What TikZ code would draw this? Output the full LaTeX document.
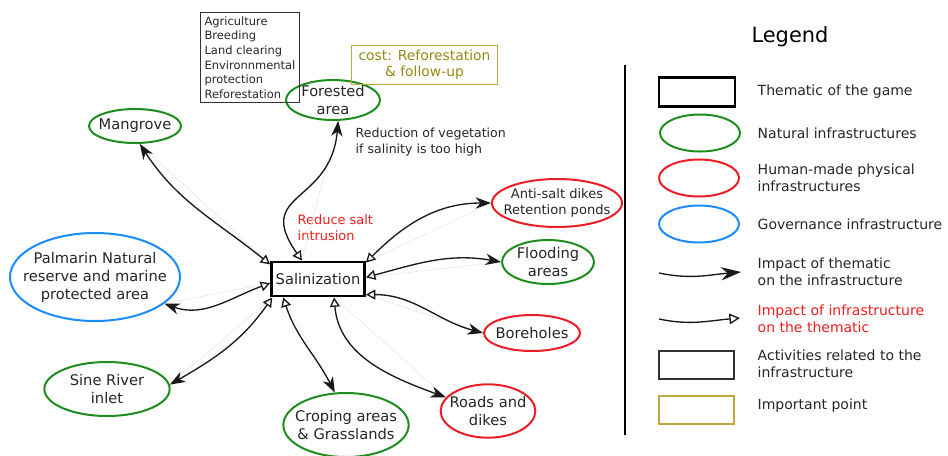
\documentclass[tikz,border=0pt]{standalone}
\usepackage{fontspec}
\setmainfont{DejaVu Sans}
\usepackage{tikz}
\usetikzlibrary{shapes.geometric,arrows.meta,positioning}
\definecolor{natgreen}{HTML}{1E8C1E}
\definecolor{humred}{HTML}{EE1D23}
\definecolor{govblue}{HTML}{1A8CFF}
\definecolor{oliveline}{HTML}{BFA93A}
\definecolor{olivetext}{HTML}{968A14}
\definecolor{textgray}{HTML}{262626}
\definecolor{notered}{HTML}{F01E1E}

\begin{document}
\begin{tikzpicture}[
  x=0.75pt, y=-0.75pt,
  lbl/.style={font=\fontsize{11}{13.5}\selectfont, align=center, text=textgray},
  theme/.style={draw, line width=2.2pt, minimum width=69.75pt, minimum height=25.5pt, inner sep=2pt},
  oval/.style={ellipse, line width=1.5pt, inner xsep=-4pt, inner ysep=-4pt, lbl},
  nat/.style={oval, draw=natgreen},
  hum/.style={oval, draw=humred},
  gov/.style={oval, draw=govblue},
  acts/.style={draw=black!80, line width=0.9pt, align=left, inner sep=3pt, font=\fontsize{8.6}{11}\selectfont, text=textgray},
  keypt/.style={draw=oliveline, line width=0.9pt},
  impact/.style={-{Stealth[length=15pt,width=10pt,inset=5pt]}, line width=1pt, black!90},
  feedback/.style={-{Triangle[open,length=8pt,width=8pt]}, line width=1pt, black!90},
  both/.style={{Triangle[open,length=7pt,width=7.5pt]}-{Stealth[length=11.5pt,width=8.5pt,inset=3.5pt]}, line width=1pt, black!90},
  faint/.style={draw=black!10, line width=0.4pt},
  legtxt/.style={anchor=west, align=left, font=\fontsize{10.5}{12.75}\selectfont, text=textgray},
]
\useasboundingbox (0,0) rectangle (948,455);

% thematic and infrastructures
\node[theme, lbl] (sal) at (318,279) {Salinization};
\node[nat, minimum width=70.5pt, minimum height=30pt] (forest) at (333,100) {Forested\\area};
\node[nat, minimum width=69pt, minimum height=25.5pt] (mangrove) at (135,126) {Mangrove};
\node[gov, inner xsep=-10pt, minimum width=127.5pt, minimum height=66pt] (palmarin) at (95,277) {Palmarin Natural\\reserve and marine\\protected area};
\node[nat, minimum width=94pt, minimum height=40.5pt] (sine) at (107,389) {Sine River\\inlet};
\node[nat, inner xsep=-6pt, minimum width=94pt, minimum height=48pt] (crop) at (346,425) {Croping areas\\\& Grasslands};
\node[hum, minimum width=71pt, minimum height=40pt] (roads) at (488,411) {Roads and\\dikes};
\node[hum, minimum width=72pt, minimum height=27pt] (bore) at (532,333) {Boreholes};
\node[nat, minimum width=69pt, minimum height=33pt] (flood) at (548,262) {Flooding\\areas};
\node[hum, inner xsep=-6pt, minimum width=97.5pt, minimum height=36pt,
  font=\fontsize{9.8}{12}\selectfont] (antisalt) at (557,203) {Anti-salt dikes\\Retention ponds};

% activities, important point and notes
\node[acts, anchor=north west] (forestacts) at (200,12) {Agriculture\\Breeding\\Land clearing\\Environnmental\\protection\\Reforestation};
\node[keypt, text=olivetext, align=center, minimum width=110pt, minimum height=25.5pt,
  font=\fontsize{10.4}{12}\selectfont] (forestcost) at (424.5,65) {cost: Reforestation\\\& follow-up};
\node[anchor=west, align=left, text=textgray, font=\fontsize{9.4}{12}\selectfont] (vegnote) at (351,142)
  {Reduction of vegetation\\if salinity is too high};
\node[anchor=west, align=left, text=notered, font=\fontsize{9.7}{12}\selectfont] (saltnote) at (293,228)
  {Reduce salt\\intrusion};

% faint straight returns
\draw[faint] (sal.131) -- (forest.284);
\draw[faint] (sal.163) -- (mangrove.285);
\draw[faint] (sal.185) -- (palmarin.339);
\draw[faint] (sal.202) -- (sine.4);
\draw[faint] (sal.208) -- (crop.109);
\draw[faint] (sal.311) -- (roads.162);
\draw[faint] (sal.342) -- (bore.180);
\draw[faint] (sal.2) -- (flood.180);
\draw[faint] (sal.19) -- (antisalt.180);

% impacts both ways
\draw[both] (sal.131) to[out=125,in=-95,looseness=1.5] (forest.284);
\draw[both] (sal.163) to[out=141,in=-57] (mangrove.285);
\draw[both] (sal.185) to[out=200,in=-20] (palmarin.339);
\draw[both] (sal.202) to[out=235,in=30] (sine.4);
\draw[both] (sal.208) to[out=-72,in=117] (crop.109);
\draw[both] (sal.311) to[out=-85,in=160] (roads.162);
\draw[both] (sal.342) to[out=0,in=165] (bore.180);
\draw[both] (sal.2) to[out=15,in=170] (flood.180);
\draw[both] (sal.19) to[out=45,in=180] (antisalt.180);

% legend
\node[font=\fontsize{15.7}{18}\selectfont, text=black] (legtitle) at (790,37) {Legend};
\coordinate (divtop) at (625,65);
\coordinate (divbot) at (625,435);
\draw[line width=0.9pt] (divtop) -- (divbot);

\node[theme, minimum width=57pt, minimum height=21.75pt] (keytheme) at (697,92) {};
\node[ellipse, draw=natgreen, line width=1.5pt, minimum width=60pt, minimum height=27.75pt] (keynat) at (700,133) {};
\node[ellipse, draw=humred, line width=1.5pt, minimum width=60pt, minimum height=27.75pt] (keyhum) at (699,178) {};
\node[ellipse, draw=govblue, line width=1.5pt, minimum width=60pt, minimum height=27.75pt] (keygov) at (699,224) {};
\coordinate (keyimpa) at (659,273);
\coordinate (keyimpb) at (741,272);
\draw[impact] (keyimpa) to[out=-12,in=185] (keyimpb);
\coordinate (keybacka) at (659,319);
\coordinate (keybackb) at (740,318);
\draw[feedback] (keybacka) to[out=-12,in=185] (keybackb);
\node[draw=black!80, line width=0.9pt, minimum width=56.25pt, minimum height=21pt] (keyacts) at (696.5,365) {};
\node[keypt, minimum width=56.25pt, minimum height=21pt] (keyimp) at (696.5,410) {};

\node[legtxt] (txttheme) at (753,92) {Thematic of the game};
\node[legtxt] (txtnat) at (753,133) {Natural infrastructures};
\node[legtxt] (txthum) at (753,178) {Human-made physical\\infrastructures};
\node[legtxt] (txtgov) at (753,224) {Governance infrastructure};
\node[legtxt] (txtimp) at (753,272) {Impact of thematic\\on the infrastructure};
\node[legtxt, text=notered] (txtback) at (753,319) {Impact of infrastructure\\on the thematic};
\node[legtxt] (txtacts) at (753,364) {Activities related to the\\infrastructure};
\node[legtxt] (txtimppt) at (753,406) {Important point};
\end{tikzpicture}
\end{document}
